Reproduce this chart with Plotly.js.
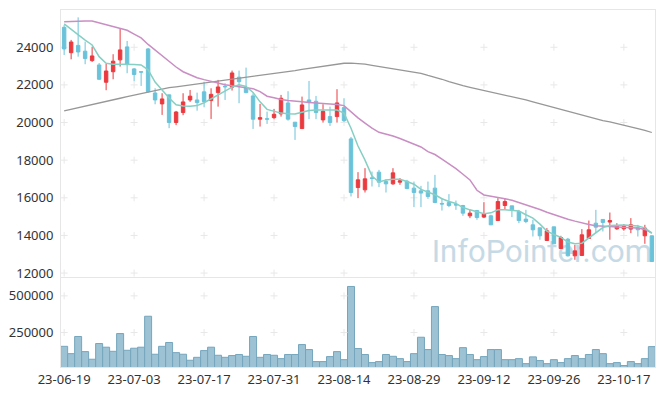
<!DOCTYPE html>
<html><head><meta charset="utf-8">
<script src="https://cdn.plot.ly/plotly-3.0.1.min.js"></script>
<style>html,body{margin:0;padding:0;background:#fff;}#chart{width:665px;height:396px;}</style>
</head><body><div id="chart"></div>
<script>
const dates = ["23-06-19","23-06-20","23-06-21","23-06-22","23-06-23","23-06-26","23-06-27","23-06-28","23-06-29","23-06-30",
"23-07-03","23-07-04","23-07-05","23-07-06","23-07-07","23-07-10","23-07-11","23-07-12","23-07-13","23-07-14",
"23-07-17","23-07-18","23-07-19","23-07-20","23-07-21","23-07-24","23-07-25","23-07-26","23-07-27","23-07-28",
"23-07-31","23-08-01","23-08-02","23-08-03","23-08-04","23-08-07","23-08-08","23-08-09","23-08-10","23-08-11",
"23-08-14","23-08-16","23-08-17","23-08-18","23-08-21","23-08-22","23-08-23","23-08-24","23-08-25","23-08-28",
"23-08-29","23-08-30","23-08-31","23-09-01","23-09-04","23-09-05","23-09-06","23-09-07","23-09-08","23-09-11",
"23-09-12","23-09-13","23-09-14","23-09-15","23-09-18","23-09-19","23-09-20","23-09-21","23-09-22","23-09-25",
"23-09-26","23-09-27","23-10-04","23-10-05","23-10-06","23-10-10","23-10-11","23-10-12","23-10-13","23-10-16",
"23-10-17","23-10-18","23-10-19","23-10-20","23-10-23"];

const openP = [25060,23710,24100,23790,23290,23060,22140,22700,23330,24020,
22850,22700,23910,21570,20990,21470,20000,20530,21200,21200,
21630,21165,21590,21930,21880,22410,21855,21414,20177,20200,
20260,20460,21040,20017,19680,21200,21130,20140,20315,20315,
20793,19130,16545,16423,17060,17362,16863,16740,16830,16880,
16513,16370,16370,16513,15700,15748,15640,15589,15042,15323,
14973,15042,14790,15590,15573,15270,14867,14563,14405,13730,
14457,13305,13800,12917,12935,13840,14650,14850,14710,14350,
14350,14336,14405,13980,13980];
const highP = [25180,24390,25590,24300,24030,23165,23110,23630,24990,24335,
22900,22700,23960,21820,21557,21467,20617,21557,21730,21590,
22160,21820,22264,22090,22760,22760,22917,21557,20990,20580,
20724,21467,21663,20030,21378,22210,21414,20973,20846,21770,
21290,19236,17362,17575,17394,17485,16990,17575,17044,16954,
16863,16635,16863,17219,15982,16194,15855,15626,15360,15360,
15766,15100,15982,15982,15573,15360,15360,14830,14405,14390,
14457,13980,13870,13500,14336,14790,15360,14850,15217,14650,
14600,14920,14563,14563,14000];
const lowP = [23590,23360,23500,23100,23220,22260,21717,22300,22970,22620,
22195,21945,21590,20970,20405,19700,19860,20390,21095,20630,
20810,20190,20846,21200,21700,21026,21557,19660,19785,19927,
20177,20315,20100,19077,19678,20177,20177,19996,19820,19996,
20030,16070,15982,16280,16600,16566,16280,16690,16690,16460,
15504,15504,15945,15716,15323,15504,15360,15042,14920,14830,
14920,14563,14790,15360,14973,14650,14650,13943,13770,13730,
13555,13305,12880,12705,12935,13840,14121,14210,13770,14300,
14250,14121,13943,13555,12615];
const closeP = [23910,24280,23750,23400,23540,22300,22740,23260,23860,23080,
22550,22680,21640,21200,21255,20000,20560,21095,21400,21060,
21110,21500,21890,21900,22635,22170,21590,20177,20260,20180,
20440,21290,20180,19785,20936,21060,20530,20600,20000,21043,
20100,16280,16954,17007,17030,16830,16740,17325,16900,16490,
16280,16250,16070,15750,15670,15589,15620,15185,15185,14952,
15148,14563,15800,15800,15360,14790,14740,14300,13980,14245,
13555,13890,12917,13180,14033,14300,14440,14690,14790,14475,
14470,14563,14300,14390,12615];

const ma5 = [25240,24950,24650,24380,24120,23500,23150,23100,23100,23100,
23090,23060,22800,22150,21700,21300,20940,20880,20870,20900,
21050,21250,21450,21650,21880,22000,21920,21600,21100,20700,
20580,20500,20470,20450,20550,20640,20670,20680,20670,20660,
20500,19700,18750,18000,17150,16840,16950,16990,16990,16870,
16720,16450,16300,16160,15950,15800,15700,15480,15360,15250,
15150,15200,15360,15360,15340,15300,15100,14920,14600,14230,
14050,13900,13650,13560,13590,13850,14150,14420,14530,14560,
14560,14530,14500,14400,14120];
const ma20 = [25360,25380,25400,25400,25400,25300,25180,25080,25000,24900,
24700,24500,24150,23850,23550,23200,22950,22700,22520,22380,
22280,22180,22100,22010,21950,21910,21880,21800,21640,21400,
21320,21220,21170,21120,21100,21070,21050,21030,20990,20960,
20900,20550,20250,19970,19700,19480,19400,19280,19150,19000,
18850,18700,18450,18300,18050,17800,17550,17250,16950,16400,
16150,16080,16030,15950,15870,15750,15640,15500,15380,15230,
15100,14980,14860,14760,14650,14580,14520,14490,14470,14450,
14440,14410,14390,14320,14130];
const maLong = [20620,20700,20790,20870,20960,21040,21120,21210,21290,21380,
21460,21540,21630,21710,21790,21850,21900,21950,22000,22060,
22110,22160,22210,22260,22300,22340,22390,22430,22480,22530,
22590,22640,22700,22760,22820,22880,22940,23000,23060,23110,
23150,23160,23140,23100,23040,22980,22920,22870,22810,22760,
22690,22610,22500,22410,22300,22180,22050,21960,21870,21790,
21700,21620,21540,21460,21380,21300,21200,21100,21000,20900,
20780,20680,20580,20480,20380,20270,20180,20100,20030,19950,
19870,19780,19680,19580,19470];

const volume = [156000,106000,223000,120000,68000,175000,150000,122000,243000,129000,
143000,150000,361000,102000,156000,182000,113000,102000,61000,81000,
127000,150000,95000,81000,93000,100000,88000,223000,81000,100000,
95000,72000,100000,100000,168000,134000,52000,52000,86000,120000,
65000,564000,141000,100000,45000,52000,100000,88000,72000,52000,
106000,218000,134000,427000,100000,93000,72000,147000,100000,65000,
86000,134000,134000,65000,65000,72000,38000,84000,59000,38000,
65000,45000,72000,93000,72000,100000,134000,106000,38000,45000,
25000,52000,38000,72000,154000];

const xTickIdx = [0,10,20,30,40,50,60,70,80];
const priceTicks = [12000,14000,16000,18000,20000,22000,24000];
const volTicks = [250000,500000];
const watermark = 'InfoPointer.com';

const tickDates = xTickIdx.map(i => dates[i]);
const gx = [], gy = [], vx = [], vy = [];
tickDates.forEach(d => { priceTicks.forEach(v => { gx.push(d); gy.push(v); }); volTicks.forEach(v => { vx.push(d); vy.push(v); }); });

const crossMarker = {symbol:'cross-thin', size:5, line:{color:'#e8e8e8', width:1}, color:'#e8e8e8'};
const priceRange = [11770, 25980];
const traces = [
  {type:'scatter', mode:'markers', x:gx, y:gy, xaxis:'x', yaxis:'y', marker:crossMarker, hoverinfo:'skip', showlegend:false},
  {type:'scatter', mode:'text', x:[dates[dates.length-1]], y:[13020], text:[watermark], textposition:'middle left',
   textfont:{family:'Roboto, sans-serif', size:31, color:'#c6dae6'}, xaxis:'x', yaxis:'y', hoverinfo:'skip', showlegend:false},
  {type:'scatter', mode:'markers', x:vx, y:vy, xaxis:'x2', yaxis:'y2', marker:crossMarker, hoverinfo:'skip', showlegend:false},
  {type:'candlestick', x:dates, open:openP, high:highP, low:lowP, close:closeP, xaxis:'x', yaxis:'y3',
   increasing:{line:{color:'#ea3a3f', width:1}, fillcolor:'#ea3a3f'},
   decreasing:{line:{color:'#6bc3da', width:1}, fillcolor:'#6bc3da'},
   whiskerwidth:0, showlegend:false},
  {type:'scatter', mode:'lines', x:dates, y:maLong, xaxis:'x', yaxis:'y3', line:{color:'#979797', width:1.3}, showlegend:false},
  {type:'scatter', mode:'lines', x:dates, y:ma20, xaxis:'x', yaxis:'y3', line:{color:'#c98ec3', width:1.5}, showlegend:false},
  {type:'scatter', mode:'lines', x:dates, y:ma5, xaxis:'x', yaxis:'y3', line:{color:'#86cfc3', width:1.5}, showlegend:false},
  {type:'bar', x:dates, y:volume, xaxis:'x2', yaxis:'y2', marker:{color:'#9cc2d3', line:{color:'#76a6bd', width:1}}, showlegend:false}
];

const axisFont = {family:'Noto Sans, sans-serif', size:13, color:'#333'};
const layout = {
  width:665, height:396,
  margin:{l:61, r:10, t:10, b:29},
  paper_bgcolor:'#fff', plot_bgcolor:'#fff',
  bargap:0, showlegend:false,
  xaxis:{type:'category', categoryorder:'array', categoryarray:dates, range:[-0.45, 84.45], anchor:'y',
         showticklabels:false, showgrid:false, zeroline:false, showline:true, mirror:true, linecolor:'#e6e6e6', linewidth:1,
         tickvals:tickDates, ticks:'', rangeslider:{visible:false}, fixedrange:true},
  xaxis2:{type:'category', categoryorder:'array', categoryarray:dates, range:[-0.45, 84.45], anchor:'y2', matches:'x',
          tickvals:tickDates, ticktext:tickDates, tickfont:axisFont, showgrid:false, zeroline:false,
          showline:true, mirror:true, linecolor:'#e6e6e6', linewidth:1, ticks:''},
  yaxis:{domain:[0.251,1], range:priceRange, tickvals:priceTicks, ticktext:priceTicks.map(String), tickfont:axisFont,
         showgrid:false, zeroline:false, showline:true, mirror:true, linecolor:'#e6e6e6', ticks:'', ticklabelstandoff:4},
  yaxis3:{overlaying:'y', anchor:'x', range:priceRange, visible:false, showgrid:false, zeroline:false},
  yaxis2:{domain:[0,0.249], range:[15000,621000], tickvals:volTicks, ticktext:volTicks.map(String), tickfont:axisFont,
          showgrid:false, zeroline:false, showline:true, mirror:true, linecolor:'#e6e6e6', ticks:'', ticklabelstandoff:4}
};
Plotly.newPlot('chart', traces, layout, {displayModeBar:false, staticPlot:true});
</script></body></html>
